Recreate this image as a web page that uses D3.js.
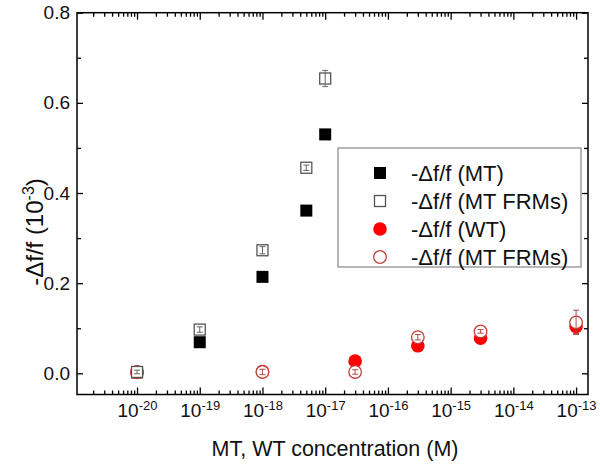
<!DOCTYPE html>
<html><head><meta charset="utf-8">
<script src="https://cdn.jsdelivr.net/npm/d3@7"></script>
<style>body{margin:0;background:#fff}svg{display:block}</style>
</head><body>
<svg id="c" width="600" height="468"></svg>
<script>
// ---- data ----
const mtConc = [1e-20, 1e-19, 1e-18, 5e-18, 1e-17];
const mtVals = [0.002, 0.069, 0.214, 0.361, 0.530];
const mtFrmVals = [0.003, 0.097, 0.273, 0.456, 0.654];
const mtFrmErr = [0.004, 0.006, 0.008, 0.006, 0.018];
const wtConc = [1e-20, 1e-18, 3e-17, 3e-16, 3e-15, 1e-13];
const wtVals = [0.002, 0.004, 0.027, 0.061, 0.078, 0.104];
const wtErr = [0, 0, 0, 0, 0, 0.016];
const wtFrmVals = [0.003, 0.003, 0.003, 0.080, 0.093, 0.113];
const wtFrmErr = [0.005, 0.006, 0.005, 0.006, 0.004, 0.027];
const xTickExps = [-20, -19, -18, -17, -16, -15, -14, -13];
const yTicks = [0, 0.2, 0.4, 0.6, 0.8];
const yMinorTicks = [0.1, 0.3, 0.5, 0.7];
const legendLabels = ["-\u0394f/f (MT)", "-\u0394f/f (MT FRMs)", "-\u0394f/f (WT)", "-\u0394f/f (MT FRMs)"];
const xTitle = "MT, WT concentration (M)";

// ---- layout ----
const L = 77, R = 588, T = 12.7, B = 394.5;
const font = "'Liberation Sans', Arial, sans-serif";
const svg = d3.select("#c");
const x = d3.scaleLog().domain([Math.pow(10, -20.957), Math.pow(10, -12.81)]).range([L, R]);
const y = d3.scaleLinear().domain([-0.047, 0.8]).range([B, T]);

const majorX = xTickExps.map(e => Math.pow(10, e));
const minorX = [];
for (let e = -22; e <= -12; e++) for (let k = 2; k <= 9; k++) {
  const v = k * Math.pow(10, e);
  if (v > x.domain()[0] && v < x.domain()[1]) minorX.push(v);
}

function styleAxis(g) {
  g.select(".domain").remove();
  g.selectAll("line").attr("stroke", "#000").attr("stroke-width", 1.3);
}

// bottom
svg.append("g").attr("transform", `translate(0,${B})`)
  .call(d3.axisBottom(x).tickValues(majorX).tickSizeInner(-7).tickSizeOuter(0).tickPadding(9).tickFormat(""))
  .call(styleAxis)
  .call(g => g.selectAll(".tick text").each(function(d) {
    const t = d3.select(this).attr("font-family", font).attr("font-size", 19).attr("fill", "#111");
    t.append("tspan").text("10");
    t.append("tspan").attr("dy", "-0.55em").attr("font-size", 13).text(String(Math.round(Math.log10(d))));
  }));
svg.append("g").attr("transform", `translate(0,${B})`)
  .call(d3.axisBottom(x).tickValues(minorX).tickSizeInner(-4).tickSizeOuter(0).tickFormat(""))
  .call(styleAxis);
// top
svg.append("g").attr("transform", `translate(0,${T})`)
  .call(d3.axisTop(x).tickValues(majorX).tickSizeInner(-7).tickSizeOuter(0).tickFormat(""))
  .call(styleAxis);
svg.append("g").attr("transform", `translate(0,${T})`)
  .call(d3.axisTop(x).tickValues(minorX).tickSizeInner(-4).tickSizeOuter(0).tickFormat(""))
  .call(styleAxis);
// left
svg.append("g").attr("transform", `translate(${L},0)`)
  .call(d3.axisLeft(y).tickValues(yTicks).tickSizeInner(-6).tickSizeOuter(0).tickPadding(7).tickFormat(d3.format(".1f")))
  .call(styleAxis)
  .call(g => g.selectAll(".tick text").attr("font-family", font).attr("font-size", 19).attr("fill", "#111"));
svg.append("g").attr("transform", `translate(${L},0)`)
  .call(d3.axisLeft(y).tickValues(yMinorTicks).tickSizeInner(-4).tickSizeOuter(0).tickFormat(""))
  .call(styleAxis);
// right
svg.append("g").attr("transform", `translate(${R},0)`)
  .call(d3.axisRight(y).tickValues(yTicks).tickSizeInner(-6).tickSizeOuter(0).tickFormat(""))
  .call(styleAxis);
svg.append("g").attr("transform", `translate(${R},0)`)
  .call(d3.axisRight(y).tickValues(yMinorTicks).tickSizeInner(-4).tickSizeOuter(0).tickFormat(""))
  .call(styleAxis);

// frame
svg.append("rect").attr("x", L).attr("y", T).attr("width", R - L).attr("height", B - T)
  .attr("fill", "none").attr("stroke", "#000").attr("stroke-width", 1.5);

// titles
svg.append("text").attr("x", 335).attr("y", 456).attr("text-anchor", "middle")
  .attr("font-family", font).attr("font-size", 21.5).attr("fill", "#111").text(xTitle);
const yt = svg.append("text").attr("transform", "translate(43,232) rotate(-90)").attr("text-anchor", "middle")
  .attr("font-family", font).attr("font-size", 24).attr("fill", "#111");
yt.append("tspan").text("-\u0394f/f (10");
yt.append("tspan").attr("dy", "-0.55em").attr("font-size", 16).text("-3");
yt.append("tspan").attr("dy", "0.37em").text(")");

// ---- marks ----
const gM = svg.append("g");
function errBars(conc, vals, errs, color) {
  conc.forEach((c, i) => {
    if (!errs[i]) return;
    const cx = x(c), y1 = y(vals[i] + errs[i]), y2 = y(vals[i] - errs[i]);
    gM.append("line").attr("x1", cx).attr("x2", cx).attr("y1", y1).attr("y2", y2).attr("stroke", color).attr("stroke-width", 1);
    [y1, y2].forEach(yy => gM.append("line").attr("x1", cx - 3).attr("x2", cx + 3).attr("y1", yy).attr("y2", yy).attr("stroke", color).attr("stroke-width", 1));
  });
}
// filled squares
gM.selectAll("rect.mt").data(mtConc).join("rect").attr("class", "mt")
  .attr("x", d => x(d) - 6).attr("y", (d, i) => y(mtVals[i]) - 6).attr("width", 12).attr("height", 12).attr("fill", "#000");
// filled circles
errBars(wtConc, wtVals, wtErr, "#b03a3a");
gM.selectAll("circle.wt").data(wtConc).join("circle").attr("class", "wt")
  .attr("cx", d => x(d)).attr("cy", (d, i) => y(wtVals[i])).attr("r", 6.8).attr("fill", "#ff0000");
// open circles
gM.selectAll("circle.wtf").data(wtConc).join("circle").attr("class", "wtf")
  .attr("cx", d => x(d)).attr("cy", (d, i) => y(wtFrmVals[i])).attr("r", 6.3).attr("fill", "#fff").attr("stroke", "#c0403c").attr("stroke-width", 1.3);
errBars(wtConc, wtFrmVals, wtFrmErr, "#b04a4a");
// open squares
gM.selectAll("rect.mtf").data(mtConc).join("rect").attr("class", "mtf")
  .attr("x", d => x(d) - 5.5).attr("y", (d, i) => y(mtFrmVals[i]) - 5.5).attr("width", 11).attr("height", 11)
  .attr("fill", "#fff").attr("stroke", "#555").attr("stroke-width", 1.3);
errBars(mtConc, mtFrmVals, mtFrmErr, "#666");

// ---- legend ----
const lg = svg.append("g");
lg.append("rect").attr("x", 338).attr("y", 148).attr("width", 243).attr("height", 119)
  .attr("fill", "#fff").attr("stroke", "#888").attr("stroke-width", 1.2);
const ly = d3.scalePoint().domain(d3.range(legendLabels.length)).range([173, 257]);
const sx = 380;
lg.append("rect").attr("x", sx - 6).attr("y", ly(0) - 6).attr("width", 12).attr("height", 12).attr("fill", "#000");
lg.append("rect").attr("x", sx - 5.5).attr("y", ly(1) - 5.5).attr("width", 11).attr("height", 11).attr("fill", "#fff").attr("stroke", "#555").attr("stroke-width", 1.3);
lg.append("circle").attr("cx", sx).attr("cy", ly(2)).attr("r", 6.8).attr("fill", "#ff0000");
lg.append("circle").attr("cx", sx).attr("cy", ly(3)).attr("r", 6.3).attr("fill", "#fff").attr("stroke", "#c0403c").attr("stroke-width", 1.3);
lg.selectAll("text.lt").data(legendLabels).join("text").attr("class", "lt")
  .attr("x", 411).attr("y", (d, i) => ly(i)).attr("dy", "0.35em")
  .attr("font-family", font).attr("font-size", 22).attr("fill", "#111").text(d => d);
</script>
</body></html>
